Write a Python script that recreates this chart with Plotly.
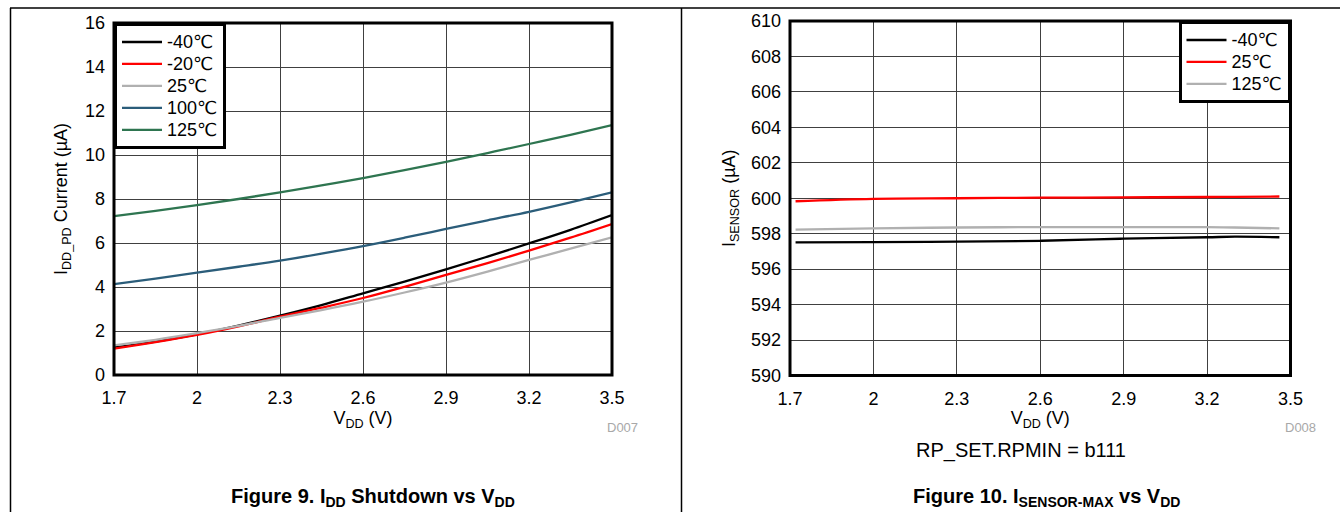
import plotly.graph_objects as go

# ---------------- data: Figure 9 (IDD shutdown vs VDD) ----------------
vdd_left = [1.7, 1.85, 2.0, 2.15, 2.3, 2.45, 2.6, 2.75, 2.9, 3.05, 3.2, 3.35, 3.5]
idd_m40 = [1.25, 1.52, 1.85, 2.25, 2.70, 3.18, 3.71, 4.24, 4.80, 5.38, 5.98, 6.60, 7.27]
idd_m20 = [1.20, 1.49, 1.82, 2.21, 2.65, 3.06, 3.50, 4.01, 4.55, 5.09, 5.65, 6.24, 6.86]
idd_25 = [1.35, 1.60, 1.90, 2.23, 2.60, 2.95, 3.33, 3.75, 4.20, 4.70, 5.23, 5.74, 6.26]
idd_100 = [4.13, 4.38, 4.65, 4.92, 5.20, 5.52, 5.86, 6.24, 6.64, 7.03, 7.42, 7.85, 8.30]
idd_125 = [7.22, 7.46, 7.72, 8.00, 8.30, 8.62, 8.95, 9.31, 9.69, 10.09, 10.50, 10.92, 11.36]
left_names = ["-40℃", "-20℃", "25℃", "100℃", "125℃"]
left_colors = ["#000000", "#ff0000", "#b0b0b0", "#2b5d7a", "#2e7550"]

# ---------------- data: Figure 10 (ISENSOR-MAX vs VDD) ----------------
vdd_right = [1.72, 2.0, 2.3, 2.6, 2.9, 3.2, 3.3, 3.46]
isen_m40 = [597.51, 597.53, 597.55, 597.60, 597.72, 597.80, 597.83, 597.80]
isen_25 = [599.83, 599.97, 600.00, 600.03, 600.05, 600.07, 600.08, 600.10]
isen_125 = [598.23, 598.30, 598.35, 598.37, 598.37, 598.37, 598.35, 598.30]
right_names = ["-40℃", "25℃", "125℃"]
right_colors = ["#000000", "#ff0000", "#b0b0b0"]

x_ticks = [1.7, 2.0, 2.3, 2.6, 2.9, 3.2, 3.5]
x_ticktext = ["1.7", "2", "2.3", "2.6", "2.9", "3.2", "3.5"]
y_left_ticks = [0, 2, 4, 6, 8, 10, 12, 14, 16]
y_right_ticks = [590, 592, 594, 596, 598, 600, 602, 604, 606, 608, 610]

W, H = 1340, 512
FONT = "Liberation Sans, Arial, DejaVu Sans, sans-serif"

def px(xp):
    return xp / W

def py(yp):
    return 1 - yp / H

def legend_label(name):
    return "<span style='font-size:18px'>" + name + "</span>"

fig = go.Figure()

for name, color, ys in zip(left_names, left_colors,
                           [idd_m40, idd_m20, idd_25, idd_100, idd_125]):
    fig.add_trace(go.Scatter(x=vdd_left, y=ys, mode="lines", name=legend_label(name),
                             line=dict(color=color, width=2.3, shape="spline"),
                             xaxis="x", yaxis="y", legend="legend"))

for name, color, ys in zip(right_names, right_colors,
                           [isen_m40, isen_25, isen_125]):
    fig.add_trace(go.Scatter(x=vdd_right, y=ys, mode="lines", name=legend_label(name),
                             line=dict(color=color, width=2.3, shape="spline"),
                             xaxis="x2", yaxis="y2", legend="legend2"))

axis_common = dict(showgrid=True, gridcolor="#404040", gridwidth=1,
                   zeroline=False, showline=False, ticks="", automargin=False,
                   tickfont=dict(family=FONT, size=18, color="#000"))

fig.update_layout(
    template="none",
    width=W, height=H,
    margin=dict(l=0, r=0, t=0, b=0, pad=0),
    paper_bgcolor="white", plot_bgcolor="white",
    font=dict(family=FONT, color="#000"),
    xaxis=dict(domain=[px(114), px(612)], range=[1.7, 3.5], anchor="y",
               tickvals=x_ticks, ticktext=x_ticktext, ticklabelstandoff=10,
               title=dict(text="V<sub>DD</sub> (V)", font=dict(size=18), standoff=2),
               **axis_common),
    yaxis=dict(domain=[py(375), py(23)], range=[0, 16], anchor="x",
               tickvals=y_left_ticks, ticklabelstandoff=8,
               title=dict(text="I<sub>DD_PD</sub> Current (µA)", font=dict(size=18), standoff=12),
               **axis_common),
    xaxis2=dict(domain=[px(790), px(1290.5)], range=[1.7, 3.5], anchor="y2",
                tickvals=x_ticks, ticktext=x_ticktext, ticklabelstandoff=10,
                title=dict(text="V<sub>DD</sub> (V)", font=dict(size=18), standoff=2),
                **axis_common),
    yaxis2=dict(domain=[py(375.5), py(21)], range=[590, 610], anchor="x2",
                tickvals=y_right_ticks, ticklabelstandoff=8,
                title=dict(text="I<sub>SENSOR</sub> (µA)", font=dict(size=18), standoff=10),
                **axis_common),
    legend=dict(x=px(114), y=py(23), xanchor="left", yanchor="top",
                bgcolor="white", bordercolor="#000", borderwidth=3,
                font=dict(family=FONT, size=14.6, color="#000"),
                tracegroupgap=0, itemwidth=40),
    legend2=dict(x=px(1290.5), y=py(21), xanchor="right", yanchor="top",
                 bgcolor="white", bordercolor="#000", borderwidth=3,
                 font=dict(family=FONT, size=14.6, color="#000"),
                 tracegroupgap=0, itemwidth=40),
    showlegend=True,
)

# plot frames
for xr, yr in [("x domain", "y domain"), ("x2 domain", "y2 domain")]:
    fig.add_shape(type="rect", xref=xr, yref=yr, x0=0, x1=1, y0=0, y1=1,
                  line=dict(color="#000", width=3), layer="above")

# outer page frame lines
fig.add_shape(type="line", xref="paper", yref="paper", x0=px(10), x1=1,
              y0=py(8), y1=py(8), line=dict(color="#000", width=1.5))
fig.add_shape(type="line", xref="paper", yref="paper", x0=px(10.5), x1=px(10.5),
              y0=py(8), y1=0, line=dict(color="#000", width=1.5))
fig.add_shape(type="line", xref="paper", yref="paper", x0=px(681.5), x1=px(681.5),
              y0=py(8), y1=0, line=dict(color="#000", width=1.5))

# annotations: ids, condition note, captions
fig.add_annotation(text="D007", xref="paper", yref="paper", x=px(640), y=py(427),
                   xanchor="right", yanchor="middle", showarrow=False,
                   font=dict(family=FONT, size=13, color="#a8a8a8"))
fig.add_annotation(text="D008", xref="paper", yref="paper", x=px(1318), y=py(427),
                   xanchor="right", yanchor="middle", showarrow=False,
                   font=dict(family=FONT, size=13, color="#a8a8a8"))
fig.add_annotation(text="RP_SET.RPMIN = b111", xref="paper", yref="paper",
                   x=px(1021), y=py(450), xanchor="center", yanchor="middle",
                   showarrow=False, font=dict(family=FONT, size=20, color="#000"))
fig.add_annotation(text="<b>Figure 9. I<sub>DD</sub> Shutdown vs V<sub>DD</sub></b>",
                   xref="paper", yref="paper", x=px(373), y=py(497),
                   xanchor="center", yanchor="middle", showarrow=False,
                   font=dict(family=FONT, size=20, color="#000"))
fig.add_annotation(text="<b>Figure 10. I<sub>SENSOR-MAX</sub> vs V<sub>DD</sub></b>",
                   xref="paper", yref="paper", x=px(1046), y=py(497),
                   xanchor="center", yanchor="middle", showarrow=False,
                   font=dict(family=FONT, size=20, color="#000"))

fig.write_html("out.html", config={"displayModeBar": False},
               post_script="document.body.style.margin='0';"
                           "document.body.style.overflow='hidden';")
